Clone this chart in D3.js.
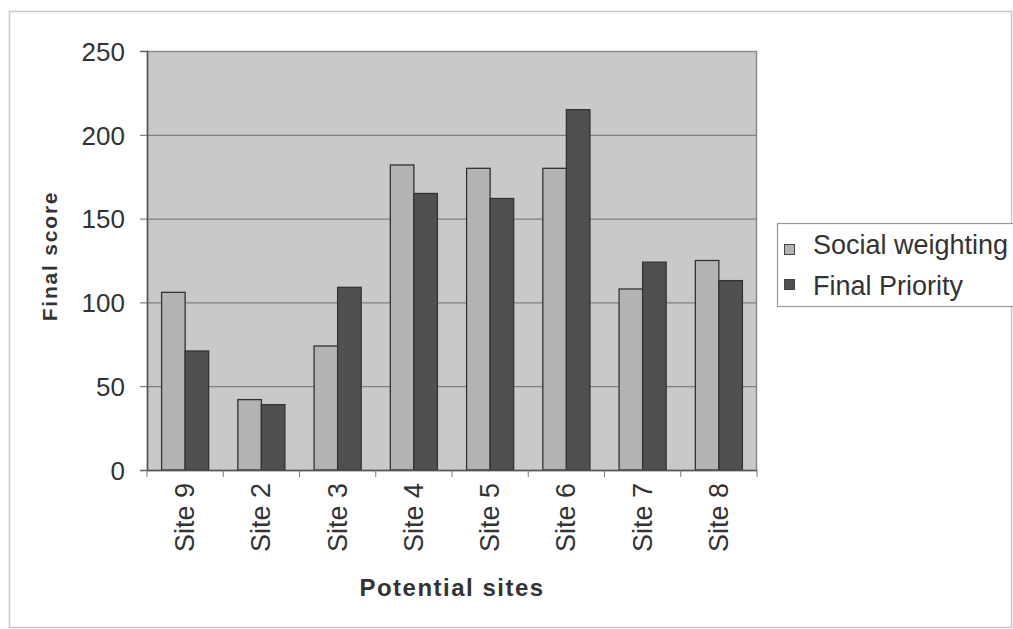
<!DOCTYPE html>
<html>
<head>
<meta charset="utf-8">
<script src="https://cdn.jsdelivr.net/npm/d3@7"></script>
<style>
body { margin: 0; background: #fff; }
svg { display: block; font-family: "Liberation Sans", Arial, sans-serif; }
</style>
</head>
<body>
<svg id="chart" width="1013" height="629"></svg>
<script>
const categories = ["Site 9", "Site 2", "Site 3", "Site 4", "Site 5", "Site 6", "Site 7", "Site 8"];
const seriesNames = ["Social weighting", "Final Priority"];
const socialWeighting = [106, 42, 74, 182, 180, 180, 108, 125];
const finalPriority = [71, 39, 109, 165, 162, 215, 124, 113];
const yTicks = [0, 50, 100, 150, 200, 250];
const seriesColors = ["#b3b3b3", "#505050"];

const svg = d3.select("#chart");
const margin = { left: 147, top: 51, right: 757, bottom: 470 };

// outer frame
svg.append("rect").attr("x", 9.5).attr("y", 11.5).attr("width", 1002).attr("height", 616)
  .attr("fill", "none").attr("stroke", "#c8c8c8").attr("stroke-width", 1.5);

const x0 = d3.scaleBand().domain(categories).range([margin.left, margin.right]).padding(0);
const x1 = d3.scaleBand().domain(seriesNames).range([0, x0.bandwidth()]).paddingInner(0).paddingOuter(0.62);
const y = d3.scaleLinear().domain([0, 250]).range([margin.bottom, margin.top]);

// plot background
svg.append("rect").attr("x", margin.left).attr("y", margin.top)
  .attr("width", margin.right - margin.left).attr("height", margin.bottom - margin.top)
  .attr("fill", "#c9c9c9");

// gridlines
svg.append("g").selectAll("line").data(yTicks.filter(d => d > 0 && d < 250)).join("line")
  .attr("x1", margin.left).attr("x2", margin.right)
  .attr("y1", d => y(d) + 0.5).attr("y2", d => y(d) + 0.5)
  .attr("stroke", "#808080").attr("stroke-width", 1.2);

// plot border
svg.append("rect").attr("x", margin.left + 0.5).attr("y", margin.top + 0.5)
  .attr("width", margin.right - margin.left - 1).attr("height", margin.bottom - margin.top)
  .attr("fill", "none").attr("stroke", "#8a8a8a").attr("stroke-width", 1.5);

// bars
const data = categories.map((c, i) => ({ cat: c, vals: [socialWeighting[i], finalPriority[i]] }));
const g = svg.append("g");
data.forEach(d => {
  d.vals.forEach((v, j) => {
    g.append("rect")
      .attr("x", x0(d.cat) + x1(seriesNames[j]))
      .attr("y", y(v))
      .attr("width", x1.bandwidth())
      .attr("height", y(0) - y(v))
      .attr("fill", seriesColors[j])
      .attr("stroke", "#333")
      .attr("stroke-width", 1.3);
  });
});

// y axis
const yAxis = d3.axisLeft(y).tickValues(yTicks).tickSize(7).tickPadding(15);
const ya = svg.append("g").attr("transform", `translate(${margin.left},0)`).call(yAxis);
ya.select(".domain").attr("stroke", "#555").attr("stroke-width", 1.5);
ya.selectAll(".tick line").attr("stroke", "#666");
ya.selectAll("text").attr("font-size", 26).attr("fill", "#333").attr("dy", "0.36em")
  .attr("font-family", "Liberation Sans, Arial, sans-serif");

// x axis
const xa = svg.append("g").attr("transform", `translate(0,${margin.bottom})`);
xa.append("line").attr("x1", margin.left).attr("x2", margin.right).attr("y1", 0.5).attr("y2", 0.5)
  .attr("stroke", "#555").attr("stroke-width", 1.5);
xa.selectAll("line.tk").data(categories.concat(["end"])).join("line").attr("class", "tk")
  .attr("x1", (d, i) => i < categories.length ? x0(d) : margin.right)
  .attr("x2", (d, i) => i < categories.length ? x0(d) : margin.right)
  .attr("y1", 0).attr("y2", 7).attr("stroke", "#777");
xa.selectAll("text").data(categories).join("text")
  .attr("transform", d => `translate(${x0(d) + x0.bandwidth() / 2 + 9},13) rotate(-90)`)
  .attr("text-anchor", "end")
  .attr("font-size", 27).attr("fill", "#333")
  .text(d => d);

// axis titles
svg.append("text").attr("transform", "translate(57,256) rotate(-90)")
  .attr("text-anchor", "middle").attr("font-size", 21).attr("font-weight", "bold")
  .attr("fill", "#333").attr("letter-spacing", 1.8).text("Final score");
svg.append("text").attr("x", 452).attr("y", 596)
  .attr("text-anchor", "middle").attr("font-size", 24).attr("font-weight", "bold")
  .attr("fill", "#333").attr("letter-spacing", 1.5).text("Potential sites");

// legend
const lg = svg.append("g");
lg.append("rect").attr("x", 777.5).attr("y", 223.5).attr("width", 240).attr("height", 83)
  .attr("fill", "#fff").attr("stroke", "#999").attr("stroke-width", 1.2);
seriesNames.forEach((s, i) => {
  lg.append("rect").attr("x", 784.5).attr("y", 244.5 + i * 35).attr("width", 10).attr("height", 10)
    .attr("fill", seriesColors[i]).attr("stroke", "#444").attr("stroke-width", 1);
  lg.append("text").attr("x", 813).attr("y", 254 + i * 41)
    .attr("font-size", 27).attr("fill", "#333").text(s);
});
</script>
</body>
</html>
